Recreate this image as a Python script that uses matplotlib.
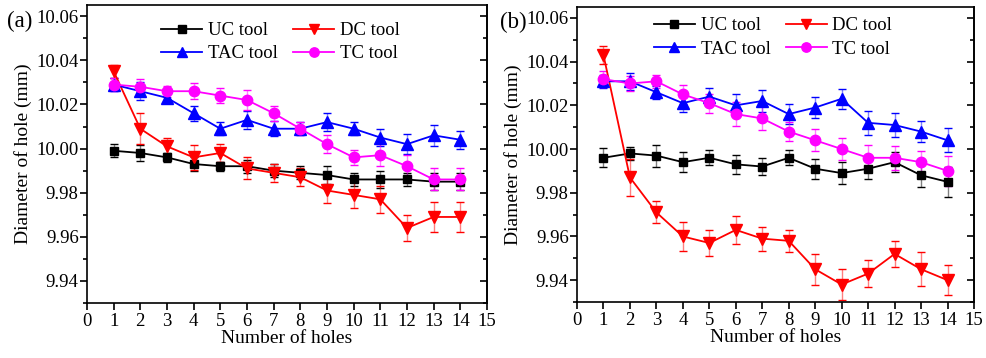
import numpy as np
import matplotlib.pyplot as plt
from matplotlib.ticker import MultipleLocator
from matplotlib.lines import Line2D

plt.rcParams['font.family'] = ['Liberation Serif', 'DejaVu Serif']

holes = np.arange(1, 15)

# panel (a)
uc_a = [9.999, 9.998, 9.996, 9.993, 9.992, 9.992, 9.990, 9.989, 9.988, 9.986, 9.986, 9.986, 9.985, 9.985]
uc_a_err = [0.003, 0.0035, 0.002, 0.003, 0.002, 0.003, 0.003, 0.003, 0.004, 0.003, 0.004, 0.003, 0.004, 0.004]
dc_a = [10.035, 10.009, 10.001, 9.996, 9.998, 9.991, 9.989, 9.987, 9.981, 9.979, 9.977, 9.964, 9.969, 9.969]
dc_a_err = [0.003, 0.007, 0.004, 0.0055, 0.004, 0.005, 0.004, 0.004, 0.0055, 0.006, 0.006, 0.006, 0.007, 0.007]
tac_a = [10.029, 10.026, 10.023, 10.016, 10.009, 10.013, 10.009, 10.009, 10.012, 10.009, 10.005, 10.002, 10.006, 10.004]
tac_a_err = [0.003, 0.004, 0.0025, 0.0033, 0.003, 0.004, 0.0034, 0.003, 0.004, 0.003, 0.004, 0.0045, 0.0047, 0.004]
tc_a = [10.029, 10.028, 10.026, 10.026, 10.024, 10.022, 10.016, 10.009, 10.002, 9.996, 9.997, 9.992, 9.986, 9.986]
tc_a_err = [0.003, 0.0035, 0.0025, 0.0035, 0.0035, 0.0045, 0.0035, 0.003, 0.004, 0.0035, 0.005, 0.005, 0.005, 0.005]

# panel (b)
uc_b = [9.996, 9.998, 9.997, 9.994, 9.996, 9.993, 9.992, 9.996, 9.991, 9.989, 9.991, 9.994, 9.988, 9.985]
uc_b_err = [0.0043, 0.003, 0.005, 0.0045, 0.0035, 0.0045, 0.004, 0.0035, 0.0045, 0.005, 0.0045, 0.0045, 0.0055, 0.007]
dc_b = [10.043, 9.987, 9.971, 9.960, 9.957, 9.963, 9.959, 9.958, 9.945, 9.938, 9.943, 9.952, 9.945, 9.940]
dc_b_err = [0.004, 0.0085, 0.005, 0.0065, 0.006, 0.0065, 0.0055, 0.005, 0.007, 0.007, 0.006, 0.006, 0.0078, 0.0068]
tac_b = [10.031, 10.031, 10.026, 10.021, 10.024, 10.020, 10.022, 10.016, 10.019, 10.023, 10.012, 10.011, 10.008, 10.004]
tac_b_err = [0.003, 0.004, 0.003, 0.004, 0.004, 0.005, 0.005, 0.0045, 0.005, 0.0045, 0.0055, 0.0055, 0.005, 0.0055]
tc_b = [10.032, 10.030, 10.031, 10.025, 10.021, 10.016, 10.014, 10.008, 10.004, 10.000, 9.996, 9.996, 9.994, 9.990]
tc_b_err = [0.0035, 0.0035, 0.003, 0.0045, 0.0043, 0.0055, 0.0055, 0.0045, 0.005, 0.005, 0.006, 0.0055, 0.005, 0.0068]

styles = [('UC tool', 'black', 's', 6), ('DC tool', 'red', 'v', 8),
          ('TAC tool', 'blue', '^', 8), ('TC tool', 'magenta', 'o', 7.5)]


def draw(ax, series, legend_xy):
    handles = {}
    for (name, c, m, ms), (y, e) in zip(styles, series):
        ax.errorbar(holes, y, yerr=e, color=c, marker=m, markersize=ms, lw=1.3,
                    ecolor=c, elinewidth=1.0, capsize=3, capthick=1.0)
        handles[name] = Line2D([], [], color=c, marker=m, markersize=ms * 0.9, lw=1.3)
    # lighter error bars
    for coll in ax.collections:
        coll.set_alpha(0.5)
    ax.set_xlim(0, 15)
    ax.set_ylim(9.93, 10.065)
    ax.xaxis.set_major_locator(MultipleLocator(1))
    ax.yaxis.set_major_locator(MultipleLocator(0.02))
    ax.yaxis.set_minor_locator(MultipleLocator(0.01))
    ax.yaxis.set_major_formatter(plt.FormatStrFormatter('%.2f'))
    ax.tick_params(axis='both', which='major', labelsize=13.5, length=5, width=1.2, direction='out')
    ax.tick_params(axis='y', which='minor', length=3, width=1.2, direction='out')
    ax.tick_params(axis='x', pad=2)
    ax.tick_params(axis='y', pad=1)
    sec = ax.secondary_yaxis('right')
    sec.yaxis.set_major_locator(MultipleLocator(0.02))
    sec.yaxis.set_minor_locator(MultipleLocator(0.01))
    sec.tick_params(axis='y', which='both', direction='in', labelright=False, width=1.2)
    sec.tick_params(axis='y', which='major', length=5)
    sec.tick_params(axis='y', which='minor', length=3)
    for s in ax.spines.values():
        s.set_linewidth(1.2)
    sec.spines['right'].set_linewidth(1.2)
    ax.set_xlabel('Number of holes', fontsize=14, labelpad=0)
    ax.set_ylabel('Diameter of hole (mm)', fontsize=14, labelpad=3)
    order = ['UC tool', 'TAC tool', 'DC tool', 'TC tool']
    ax.legend([handles[k] for k in order], order, ncol=2, frameon=False, fontsize=13.5,
              loc='upper left', bbox_to_anchor=legend_xy, borderpad=0,
              handlelength=2.2, columnspacing=0.8, labelspacing=0.32, handletextpad=0.3)


fig = plt.figure(figsize=(9.86, 3.58), dpi=100)
ax1 = fig.add_axes([0.0882, 0.1536, 0.4057, 0.832])
ax2 = fig.add_axes([0.5852, 0.1564, 0.4026, 0.824])

draw(ax1, [(uc_a, uc_a_err), (dc_a, dc_a_err), (tac_a, tac_a_err), (tc_a, tc_a_err)], (0.162, 0.975))
draw(ax2, [(uc_b, uc_b_err), (dc_b, dc_b_err), (tac_b, tac_b_err), (tc_b, tc_b_err)], (0.17, 0.997))

fig.text(0.007, 0.94, '(a)', fontsize=16.5, va='center')
fig.text(0.507, 0.937, '(b)', fontsize=16.5, va='center')

fig.savefig('out.png', dpi=100)
